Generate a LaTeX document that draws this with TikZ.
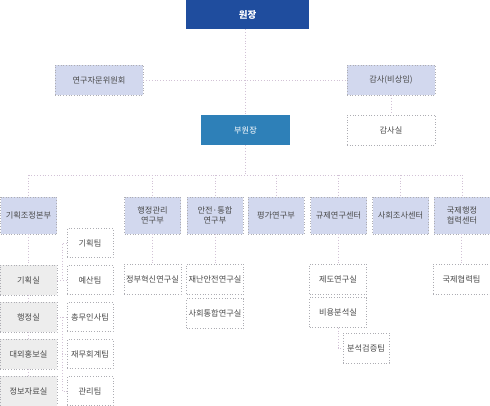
\documentclass[tikz,border=0pt]{standalone}
\usepackage{fontspec}
\setmainfont{Noto Sans CJK KR}
\usetikzlibrary{calc}
\definecolor{chiefblue}{HTML}{1F4D9E}
\definecolor{viceblue}{HTML}{2E80B8}
\definecolor{deptfill}{HTML}{D2D8EE}
\definecolor{secfill}{HTML}{EDEDED}
\definecolor{linkcol}{HTML}{D2C2D6}
\definecolor{edgecol}{HTML}{ADADB3}
\definecolor{txtcol}{HTML}{4A4A4A}
\tikzset{
  box/.style={inner sep=0pt, align=center, text=txtcol, font=\fontsize{8.2}{10}\selectfont,
    draw=edgecol, dotted, line width=0.7pt},
  chief/.style={box, solid, draw=none, fill=chiefblue, text=white, font=\fontsize{9.5}{11}\selectfont\bfseries,
    minimum width=123, minimum height=29},
  vice/.style={box, solid, draw=none, fill=viceblue, text=white, minimum width=89, minimum height=30},
  wide/.style={box, fill=deptfill, minimum width=88, minimum height=30},
  dept/.style={box, fill=deptfill, minimum width=56, minimum height=37},
  sec/.style={box, fill=secfill, minimum width=57, minimum height=30},
  lab/.style={box, fill=white, minimum width=57, minimum height=30},
  team/.style={box, fill=white, minimum width=46, minimum height=29},
  link/.style={draw=linkcol, dotted, line width=0.8pt}
}

\begin{document}
\begin{tikzpicture}[x=1pt, y=-1pt]
			%%%%% START %%%%%
			\useasboundingbox (0, 0) rectangle (490, 406);
			
			\node[chief] (boss) at (247.5, 14.5) {원장};
			\node[wide] (advisory) at (99, 80) {연구자문위원회};
			\node[wide] (auditor) at (391, 80) {감사(비상임)};
			\node[wide, fill=white] (auditroom) at (391, 130) {감사실};
			\node[vice] (vice) at (245.5, 130) {부원장};
			
			\draw[link] (boss.south -| vice.north) -- (vice.north);
			\draw[link] (advisory.east) -- (auditor.west);
			\draw[link] (auditor.south) -- (auditroom.north);
			
			%%%%% DEPARTMENTS %%%%%
			\node[dept] (plan) at (28.5, 215.5) {기획조정본부};
			\node[dept] (admin) at (152.5, 215.5) {행정관리\\연구부};
			\node[dept] (safety) at (215, 215.5) {안전·통합\\연구부};
			\node[dept] (eval) at (276, 215.5) {평가연구부};
			\node[dept] (reg) at (338.5, 215.5) {규제연구센터};
			\node[dept] (social) at (400.5, 215.5) {사회조사센터};
			\node[dept] (intl) at (462, 215.5) {국제행정\\협력센터};
			
			\coordinate (bus) at (0, 175);
			\draw[link] (vice.south) -- (vice.south |- bus);
			\draw[link] (plan.north |- bus) -- (intl.north |- bus);
			\foreach \d in {plan, admin, safety, eval, reg, social, intl}
				\draw[link] (\d.north |- bus) -- (\d.north);
			
			%%%%% PLANNING %%%%%
			\node[sec] (plansec) at (28.5, 280) {기획실};
			\node[sec] (adminsec) at (28.5, 317) {행정실};
			\node[sec] (prsec) at (28.5, 354) {대외홍보실};
			\node[sec] (infosec) at (28.5, 391) {정보자료실};
			
			\node[team] (planteam) at (90, 243) {기획팀};
			\node[team] (budget) at (90, 280) {예산팀};
			\node[team] (general) at (90, 317) {총무인사팀};
			\node[team] (finance) at (90, 354) {재무회계팀};
			\node[team] (mgmt) at (90, 391) {관리팀};
			
			\draw[link] (plan.south) -- (plansec.north);
			\draw[link] (plansec.south) -- (adminsec.north);
			\draw[link] (adminsec.south) -- (prsec.north);
			\draw[link] (prsec.south) -- (infosec.north);
			
			\coordinate (tx) at (62, 0);
			\draw[link] (plansec.east) -- (budget.west);
			\draw[link] (planteam.west) -- (planteam.west -| tx) -- (budget.west -| tx);
			\draw[link] (adminsec.east) -- (general.west);
			\draw[link] (general.west -| tx) -- (mgmt.west -| tx) -- (mgmt.west);
			\draw[link] (finance.west -| tx) -- (finance.west);
			
			%%%%% LABS %%%%%
			\node[lab] (innov) at (152.5, 279) {정부혁신연구실};
			\node[lab] (disaster) at (215, 279) {재난안전연구실};
			\node[lab] (cohesion) at (215, 313.5) {사회통합연구실};
			\node[lab] (system) at (338, 279) {제도연구실};
			\node[lab] (cost) at (338, 312.5) {비용분석실};
			\node[team, minimum height=30] (verify) at (366, 348) {분석검증팀};
			\node[lab] (coop) at (461.5, 279) {국제협력팀};
			
			\draw[link] (admin.south) -- (innov.north);
			\draw[link] (safety.south) -- (disaster.north);
			\draw[link] (reg.south -| system.north) -- (system.north);
			\draw[link] (cost.south) |- (verify.west);
			\draw[link] (intl.south -| coop.north) -- (coop.north);
			%%%%% END %%%%%
\end{tikzpicture}
\end{document}
